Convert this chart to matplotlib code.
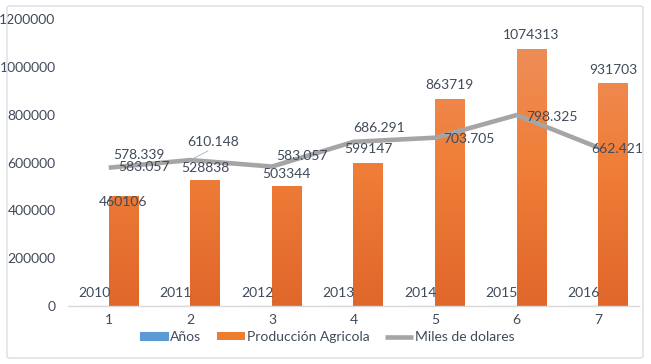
import matplotlib
matplotlib.use("Agg")
import matplotlib.pyplot as plt
import numpy as np
from matplotlib.patches import FancyBboxPatch
from matplotlib.colors import LinearSegmentedColormap

categories = [1, 2, 3, 4, 5, 6, 7]
anos = [2010, 2011, 2012, 2013, 2014, 2015, 2016]
produccion = [460106, 528838, 503344, 599147, 863719, 1074313, 931703]
miles = [578339, 610148, 583057, 686291, 703705, 798325, 662421]
yticks = [0, 200000, 400000, 600000, 800000, 1000000, 1200000]

# label placement offsets in pixels (dx right, dy down)
line_offsets = [(30, -13), (23, -18), (30, -11), (26, -14), (34, 1), (35, 2), (19, 1)]
bar_offsets = [(0, 6), (0, -12), (0, -12), (0, -14), (0, -14), (0, -14), (0, -13)]

TXT = "#404A5A"
FONT = "Lato"
FS = 10
plt.rcParams['font.family'] = [FONT, 'DejaVu Sans']

fig = plt.figure(figsize=(6.51, 3.64), dpi=100)
fig.patches.append(FancyBboxPatch((7/651, 1-358/364), 636/651, 352/364,
                                  boxstyle="round,pad=0,rounding_size=0.005",
                                  transform=fig.transFigure, fill=False,
                                  edgecolor="#D9DEE5", lw=1.0))
ax = fig.add_axes([68/651, 1-306/364, (639-68)/651, (306-19)/364])

x = np.array(categories, dtype=float)
w = 0.36
blue = "#5B9BD5"
b1 = ax.bar(x - w/2, anos, w, color=blue, edgecolor=blue, lw=0.8, label="Años", zorder=2)
b2 = ax.bar(x + w/2, produccion, w, color="#ED7D31", lw=0, label="Producción Agricola", zorder=2)

cmap = LinearSegmentedColormap.from_list("og", ["#E0672A", "#F07E38", "#EE9160"])
grad = np.linspace(0, 1, 256).reshape(-1, 1)
for r in b2:
    x0 = r.get_x()
    im = ax.imshow(grad, cmap=cmap, origin="lower", aspect="auto",
                   extent=[x0, x0 + r.get_width(), 0, 1200000], zorder=2.5)
    im.set_clip_path(r)

ln, = ax.plot(x, miles, color="#A5A5A5", lw=3.3, solid_capstyle="butt",
              label="Miles de dolares", zorder=3)

ax.set_xlim(0.5, 7.5)
ax.set_ylim(0, 1200000)
ax.set_yticks(yticks)
ax.set_yticklabels([str(v) for v in yticks])
ax.set_xticks(x)
ax.set_xticklabels([str(c) for c in categories])
for s in ["top", "right", "left"]:
    ax.spines[s].set_visible(False)
ax.spines["bottom"].set_color("#D9D9D9")
ax.spines["bottom"].set_linewidth(1.0)
ax.tick_params(axis="both", length=0, colors=TXT, labelsize=FS)
ax.tick_params(axis="y", pad=9)
ax.tick_params(axis="x", pad=6)

P = 0.72  # px -> points

def fmt_dot(v):
    return f"{v:,}".replace(",", ".")

for xi, v in zip(x, anos):
    ax.annotate(str(v), (xi - w/2, v), xytext=(0, 13*P), textcoords="offset points",
                ha="center", va="center", fontsize=FS, color=TXT, zorder=5)
for xi, v, (dx, dy) in zip(x, produccion, bar_offsets):
    ax.annotate(str(v), (xi + w/2, v), xytext=(dx*P, -dy*P), textcoords="offset points",
                ha="center", va="center", fontsize=FS, color=TXT, zorder=5)
for i, (xi, v, (dx, dy)) in enumerate(zip(x, miles, line_offsets)):
    kw = {}
    if i == 1:
        kw["arrowprops"] = dict(arrowstyle="-", color="#9DB3D0", lw=0.6,
                                shrinkA=0, shrinkB=2, relpos=(0.5, 0))
    ax.annotate(fmt_dot(v), (xi, v), xytext=(dx*P, -dy*P), textcoords="offset points",
                ha="center", va="center", fontsize=FS, color=TXT, zorder=5, **kw)
# duplicated label displaced next to the first point in the original
ax.annotate(fmt_dot(miles[2]), (x[0], miles[0]), xytext=(35*P, 1*P), textcoords="offset points",
            ha="center", va="center", fontsize=FS, color=TXT, zorder=5)

fig.legend(handles=[b1, b2, ln], labels=["Años", "Producción Agricola", "Miles de dolares"],
           loc="center", bbox_to_anchor=(0.503, 1-337/364), ncol=3, frameon=False,
           fontsize=FS, labelcolor=TXT, handlelength=2.0, handleheight=0.5,
           handletextpad=0.15, columnspacing=1.15, borderpad=0)

fig.savefig("out.png", dpi=100)
